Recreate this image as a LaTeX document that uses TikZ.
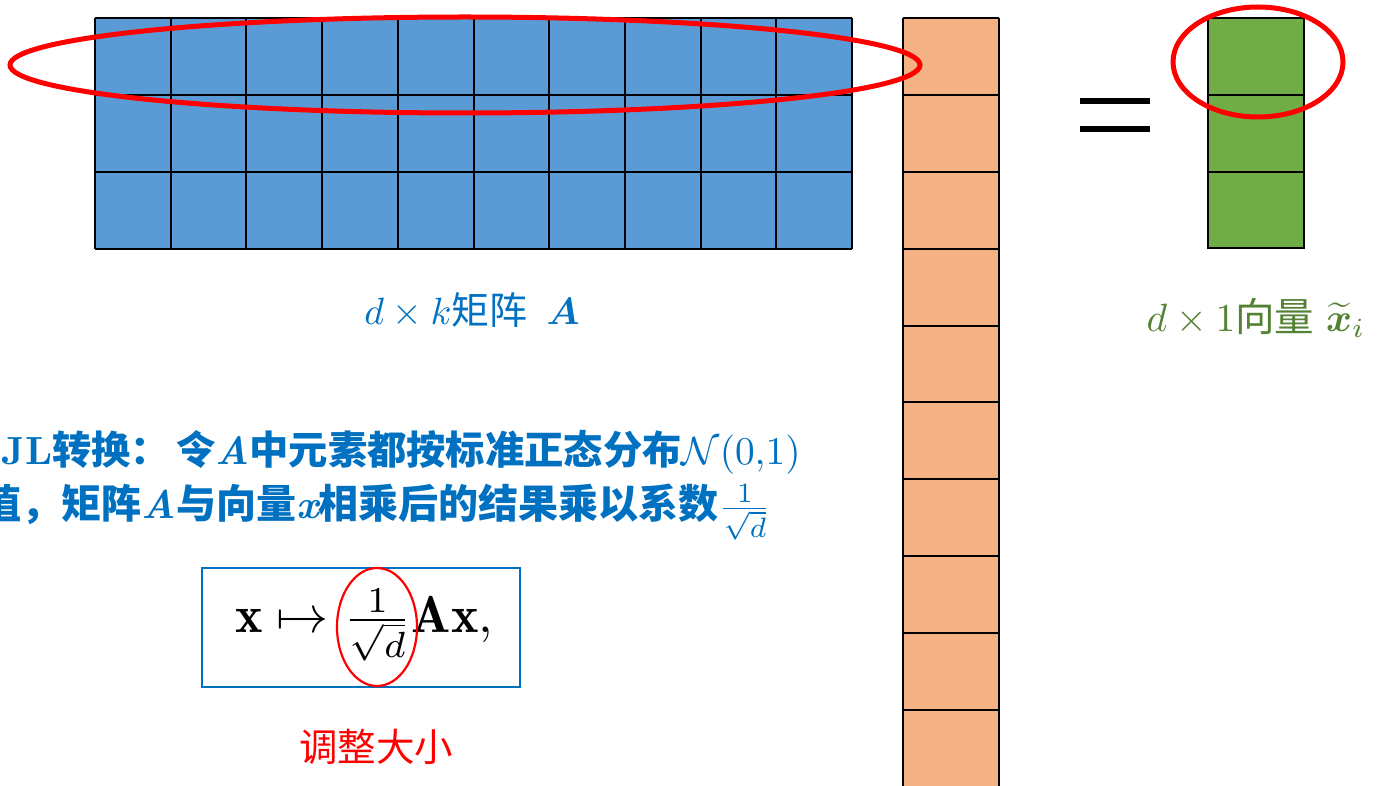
\documentclass[tikz,border=0pt]{standalone}
\usepackage{amsmath,amssymb}
\usepackage{fontspec}
\newfontfamily\cjk{Noto Sans CJK SC}
\newcommand{\bmath}[1]{{\mathversion{bold}$#1$}}
\newcommand{\bit}[1]{{\normalfont\bfseries\itshape #1}}
\definecolor{bluefill}{HTML}{5B9BD5}
\definecolor{orangefill}{HTML}{F4B183}
\definecolor{greenfill}{HTML}{70AD47}
\definecolor{textblue}{HTML}{0070C0}
\definecolor{textgreen}{HTML}{548235}
\definecolor{redline}{HTML}{FF0000}
\tikzset{
  gridline/.style={draw=black, line width=2pt},
  redring/.style={draw=redline, line width=5pt},
  label/.style={inner sep=0pt, anchor=center},
}
\begin{document}
\begin{tikzpicture}[x=1pt,y=-1pt]
\useasboundingbox (0,0) rectangle (1377,786);
\clip (0,0) rectangle (1377,786);
% blue matrix A
\fill[bluefill] (95,18) rectangle (852,249);
\foreach \i in {0,...,10} { \draw[gridline] ({95+\i*75.7},18) -- ({95+\i*75.7},249); }
\foreach \y in {18,95.5,172,249} { \draw[gridline] (95,\y) -- (852,\y); }
% orange vector
\fill[orangefill] (903,18) rectangle (999,800);
\foreach \j in {0,...,10} { \draw[gridline] (903,{18+\j*76.9}) -- (999,{18+\j*76.9}); }
\draw[gridline] (903,18) -- (903,800);
\draw[gridline] (999,18) -- (999,800);
% equals sign
\fill[black] (1080,98) rectangle (1150,104.5);
\fill[black] (1080,126) rectangle (1150,132.5);
% green vector
\fill[greenfill] (1208,18) rectangle (1304,248);
\draw[gridline] (1208,18) rectangle (1304,248);
\draw[gridline] (1208,95) -- (1304,95);
\draw[gridline] (1208,172) -- (1304,172);
% red ellipses
\draw[redring] (465,65) ellipse [x radius=455, y radius=48];
\draw[redring] (1258,62) ellipse [x radius=85, y radius=55];
% labels
\node[label, text=textblue, scale=3.8] (lblA) at (472,310)
  {$d\times k$\cjk 矩阵\hspace{5pt}\bmath{A}};
\node[label, text=textgreen, scale=3.95] (lblX) at (1256,318)
  {$d\times 1$\cjk 向量\hspace{3pt}$\widetilde{\boldsymbol{x}}_i$};
% JL text
\node[inner sep=0pt, anchor=west, text=textblue, scale=3.93] (jl1) at (1,452)
  {\bfseries JL\cjk\bfseries 转换：\hspace{1.5pt}令\bit{A}中元素都按标准正态分布$\mathcal{N}(0{,}1)$};
\node[inner sep=0pt, anchor=east, text=textblue, scale=4.0] (jl2) at (772,512)
  {\cjk\bfseries 值，矩阵\bit{A}与向量\bit{x}相乘后的结果乘以系数$\frac{1}{\sqrt{d}}$};
% formula box
\node[draw=textblue, line width=1.5pt, minimum width=318pt, minimum height=119pt, inner sep=0pt] (box) at (361,627.5) {};
\node[label, scale=5.2] (formula) at (364,625)
  {$\mathbf{x}\mapsto\frac{1}{\sqrt{d}}\mathbf{A}\mathbf{x},$};
\draw[draw=redline, line width=2.2pt] (377,627) ellipse [x radius=40, y radius=59];
\node[label, text=redline, scale=3.85] (resize) at (376,747)
  {\cjk 调整大小};
\end{tikzpicture}
\end{document}
